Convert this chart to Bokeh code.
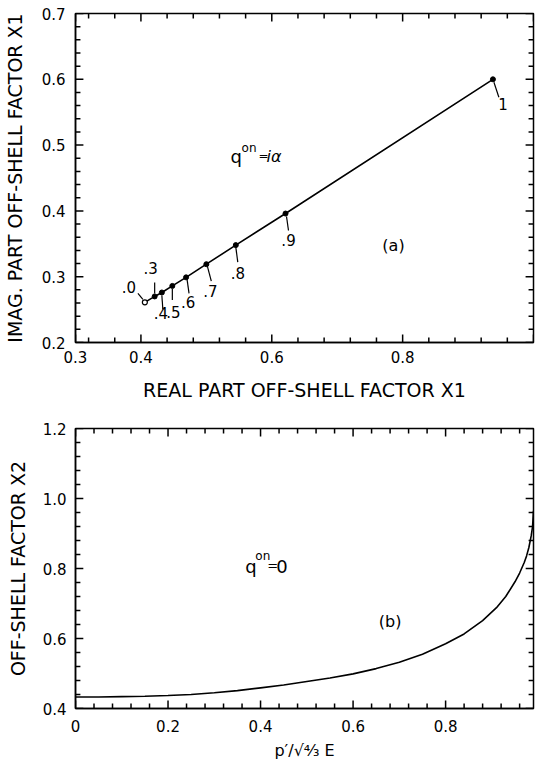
from bokeh.plotting import figure
from bokeh.layouts import column
from bokeh.models import FixedTicker, ColumnDataSource, Label
from bokeh.core.properties import value
from bokeh.embed import file_html
from bokeh.resources import INLINE

FONT = "DejaVu Sans"

# ---------------- data, panel (a) ----------------
point_labels = [".0", ".3", ".4", ".5", ".6", ".7", ".8", ".9", "1"]
real_x1 = [0.406, 0.421, 0.432, 0.448, 0.469, 0.500, 0.545, 0.621, 0.938]
imag_x1 = [0.261, 0.270, 0.276, 0.286, 0.299, 0.319, 0.348, 0.396, 0.600]

# ---------------- data, panel (b) ----------------
p_ratio = [0.0, 0.05, 0.1, 0.15, 0.2, 0.25, 0.3, 0.35, 0.4, 0.45, 0.5, 0.55,
           0.6, 0.65, 0.7, 0.75, 0.8, 0.84, 0.88, 0.91, 0.93, 0.95, 0.96,
           0.97, 0.975, 0.98, 0.985, 0.988, 0.99]
x2_factor = [0.433, 0.433, 0.434, 0.435, 0.437, 0.440, 0.445, 0.451, 0.459,
             0.467, 0.477, 0.487, 0.499, 0.514, 0.532, 0.555, 0.585, 0.613,
             0.651, 0.688, 0.720, 0.762, 0.787, 0.817, 0.836, 0.860, 0.893,
             0.920, 0.965]

# ---------------- ticks ----------------
a_x_ticks = [0.3, 0.4, 0.6, 0.8]
a_x_tick_labels = ["0.3", "0.4", "0.6", "0.8"]
a_x_minor = [0.32, 0.36, 0.44, 0.48, 0.52, 0.56, 0.64, 0.68, 0.72, 0.76,
             0.84, 0.88, 0.92, 0.96]
a_y_ticks = [0.2, 0.3, 0.4, 0.5, 0.6, 0.7]
a_y_tick_labels = ["0.2", "0.3", "0.4", "0.5", "0.6", "0.7"]
a_y_minor = [0.22, 0.24, 0.26, 0.28, 0.32, 0.34, 0.36, 0.38, 0.42, 0.44, 0.46,
             0.48, 0.52, 0.54, 0.56, 0.58, 0.62, 0.64, 0.66, 0.68]
b_x_ticks = [0.0, 0.2, 0.4, 0.6, 0.8]
b_x_tick_labels = ["0", "0.2", "0.4", "0.6", "0.8"]
b_x_minor = [0.04, 0.08, 0.12, 0.16, 0.24, 0.28, 0.32, 0.36, 0.44, 0.48, 0.52,
             0.56, 0.64, 0.68, 0.72, 0.76, 0.84, 0.88, 0.92, 0.96]
b_y_ticks = [0.4, 0.6, 0.8, 1.0, 1.2]
b_y_tick_labels = ["0.4", "0.6", "0.8", "1.0", "1.2"]
b_y_minor = [0.44, 0.48, 0.52, 0.56, 0.64, 0.68, 0.72, 0.76, 0.84, 0.88, 0.92,
             0.96, 1.04, 1.08, 1.12, 1.16]

# ---------------- layout constants ----------------
W = 537
A_H, A_L, A_R, A_T, A_B = 418, 70, 4, 13, 76
B_H, B_L, B_R, B_T, B_B = 350, 65, 4, 10, 60
A_XR, A_YR = (0.3, 1.0), (0.2, 0.7)
B_XR, B_YR = (0.0, 0.99), (0.4, 1.2)
MAJOR_LEN, MINOR_LEN = 8, 5

# label / leader offsets (screen px, +y is down), per point
lead_start = [(-2, -3), (0, -3), (0, 3), (0, 3), (1, 2), (1, 2), (0, 2), (1, 3), (1, 3)]
lead_end = [(-7, -9), (0, -14), (1, 17), (0, 14), (3, 16), (5, 17), (2, 17), (3, 17), (6, 18)]
label_off = [(-16, -15), (-4, -28), (-1, 21), (1, 26), (2, 25), (4, 27), (2, 28), (3, 26), (10, 25)]


def style_axis(ax, ticks, labels):
    ax.ticker = FixedTicker(ticks=ticks)
    ax.major_tick_line_color = None
    ax.minor_tick_line_color = None
    ax.major_tick_in = 0
    ax.major_tick_out = 0
    ax.minor_tick_in = 0
    ax.minor_tick_out = 0
    ax.axis_line_color = "black"
    ax.axis_line_width = 1.5
    ax.major_label_overrides = {t: s for t, s in zip(ticks, labels)}
    ax.major_label_text_font = FONT
    ax.major_label_text_font_size = "15px"
    ax.major_label_text_color = "black"
    ax.axis_label_text_font = FONT
    ax.axis_label_text_font_size = "19px"
    ax.axis_label_text_font_style = "normal"
    ax.axis_label_text_color = "black"


def base_fig(h, l, r, t, b, xr, yr):
    p = figure(width=W, height=h, x_range=xr, y_range=yr,
               output_backend="svg", toolbar_location=None,
               min_border_left=l, min_border_right=r,
               min_border_top=t, min_border_bottom=b)
    p.xgrid.visible = False
    p.ygrid.visible = False
    p.outline_line_color = "black"
    p.outline_line_width = 1.5
    p.background_fill_color = "white"
    p.border_fill_color = "white"
    return p


def tick_segments(xr, yr, fw, fh, xt, xm, yt, ym):
    # inward ticks on all four sides of the frame
    kx = (xr[1] - xr[0]) / fw
    ky = (yr[1] - yr[0]) / fh
    x0, y0, x1, y1 = [], [], [], []
    for ticks, ln in ((xt, MAJOR_LEN), (xm, MINOR_LEN)):
        for t in ticks:
            x0 += [t, t]
            x1 += [t, t]
            y0 += [yr[0], yr[1]]
            y1 += [yr[0] + ln * ky, yr[1] - ln * ky]
    for ticks, ln in ((yt, MAJOR_LEN), (ym, MINOR_LEN)):
        for t in ticks:
            y0 += [t, t]
            y1 += [t, t]
            x0 += [xr[0], xr[1]]
            x1 += [xr[0] + ln * kx, xr[1] - ln * kx]
    return ColumnDataSource(dict(x0=x0, y0=y0, x1=x1, y1=y1))


def lbl(p, x, y, text, size, xo=0, yo=0, align="left", baseline="alphabetic",
        style="normal"):
    p.add_layout(Label(x=x, y=y, x_offset=xo, y_offset=yo, text=text, text_font=FONT,
                       text_font_size=size, text_baseline=baseline, text_align=align,
                       text_font_style=style, text_color="black"))


# ================= panel (a) =================
pa = base_fig(A_H, A_L, A_R, A_T, A_B, A_XR, A_YR)
style_axis(pa.xaxis[0], a_x_ticks, a_x_tick_labels)
style_axis(pa.yaxis[0], a_y_ticks, a_y_tick_labels)
pa.xaxis[0].axis_label = "REAL PART OFF-SHELL FACTOR X1"
pa.xaxis[0].major_label_standoff = 8
pa.xaxis[0].axis_label_standoff = 13
pa.yaxis[0].axis_label = "IMAG. PART OFF-SHELL FACTOR X1"
pa.yaxis[0].major_label_standoff = 10
pa.yaxis[0].axis_label_standoff = 13

akx = (A_XR[1] - A_XR[0]) / (W - A_L - A_R)
aky = (A_YR[1] - A_YR[0]) / (A_H - A_T - A_B)

pa.segment("x0", "y0", "x1", "y1",
           source=tick_segments(A_XR, A_YR, W - A_L - A_R, A_H - A_T - A_B,
                                a_x_ticks + [1.0], a_x_minor, a_y_ticks, a_y_minor),
           line_color="black", line_width=1.5)

pa.line(real_x1, imag_x1, line_color="black", line_width=1.6)
pa.scatter(real_x1[1:], imag_x1[1:], size=5, fill_color="black", line_color="black")
pa.scatter(real_x1[:1], imag_x1[:1], size=5, fill_color="white", line_color="black",
           line_width=1.2)

seg = ColumnDataSource(dict(
    x0=[x + s[0] * akx for x, s in zip(real_x1, lead_start)],
    y0=[y - s[1] * aky for y, s in zip(imag_x1, lead_start)],
    x1=[x + e[0] * akx for x, e in zip(real_x1, lead_end)],
    y1=[y - e[1] * aky for y, e in zip(imag_x1, lead_end)],
))
pa.segment("x0", "y0", "x1", "y1", source=seg, line_color="black", line_width=1.2)

lab = ColumnDataSource(dict(
    x=real_x1, y=imag_x1, text=point_labels,
    xo=[o[0] for o in label_off], yo=[o[1] for o in label_off],
))
pa.text("x", "y", text="text", source=lab, x_offset="xo", y_offset="yo",
        text_font=value(FONT), text_font_size="15px", text_align="center",
        text_baseline="middle", text_color="black")

lbl(pa, 0.537, 0.482, "q", "18px")
lbl(pa, 0.537, 0.482, "on", "12px", xo=11, yo=9)
lbl(pa, 0.537, 0.482, "=", "12px", xo=28, yo=1)
lbl(pa, 0.537, 0.482, "iα", "16px", xo=36, style="italic")
lbl(pa, 0.786, 0.348, "(a)", "16px", align="center", baseline="middle")

# ================= panel (b) =================
pb = base_fig(B_H, B_L, B_R, B_T, B_B, B_XR, B_YR)
style_axis(pb.xaxis[0], b_x_ticks, b_x_tick_labels)
style_axis(pb.yaxis[0], b_y_ticks, b_y_tick_labels)
pb.xaxis[0].major_label_standoff = 11
pb.xaxis[0].axis_label = "p′/√⁴⁄₃ E"
pb.xaxis[0].axis_label_text_font_size = "16px"
pb.xaxis[0].axis_label_standoff = 6
pb.yaxis[0].axis_label = "OFF-SHELL FACTOR X2"
pb.yaxis[0].major_label_standoff = 9
pb.yaxis[0].axis_label_standoff = 11

pb.segment("x0", "y0", "x1", "y1",
           source=tick_segments(B_XR, B_YR, W - B_L - B_R, B_H - B_T - B_B,
                                b_x_ticks, b_x_minor, b_y_ticks, b_y_minor),
           line_color="black", line_width=1.5)

pb.line(p_ratio, x2_factor, line_color="black", line_width=1.6)

lbl(pb, 0.367, 0.807, "q", "18px")
lbl(pb, 0.367, 0.807, "on", "12px", xo=10, yo=10)
lbl(pb, 0.367, 0.807, "=", "13px", xo=22, yo=1)
lbl(pb, 0.367, 0.807, "0", "18px", xo=31)
lbl(pb, 0.680, 0.650, "(b)", "16px", align="center", baseline="middle")

layout = column(pa, pb)
open("out.html", "w").write(file_html(layout, INLINE))
